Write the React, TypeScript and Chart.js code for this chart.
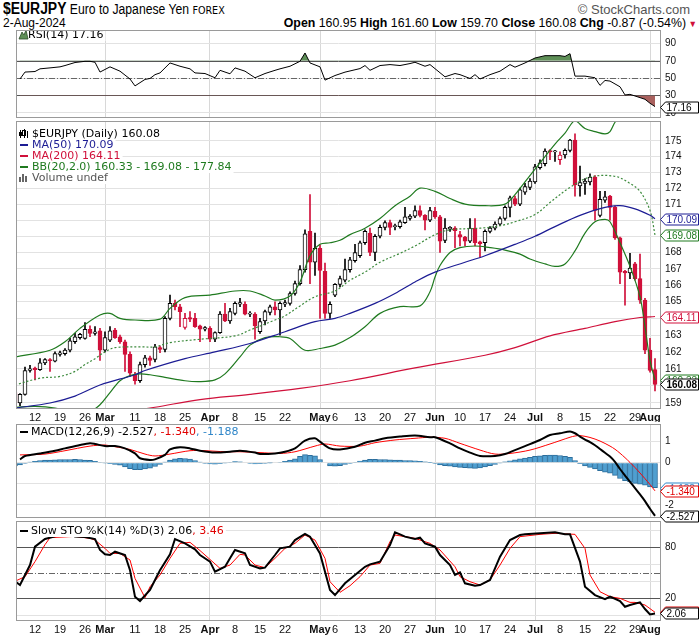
import React, { useEffect, useRef } from "react";
import { Chart, registerables } from "chart.js";

Chart.register(...registerables);

// ---------------- data ----------------
// trading days 6-Feb-2024 .. 2-Aug-2024, index 0..128
const tickIndex = [4, 9, 14, 18, 24, 29, 34, 39, 44, 49, 54, 61, 64, 69, 74, 79, 84, 89, 94, 99, 104, 109, 114, 119, 124, 127];
const tickText = ["12", "19", "26", "Mar", "11", "18", "25", "Apr", "8", "15", "22", "May", "6", "13", "20", "27", "Jun", "10", "17", "24", "Jul", "8", "15", "22", "29", "Aug"];
const monthIndex = [18, 39, 61, 84, 104, 127];

const opens = [159.6, 159.0, 159.5, 160.9, 161.05, 160.95, 161.35, 161.55, 161.45, 161.85, 161.9, 162.1, 162.6, 162.85, 162.8, 163.35, 163.1, 163.25, 162.1, 162.7, 163.3, 162.9, 162.6, 161.85, 160.65, 160.3, 161.25, 161.65, 161.55, 162.25, 162.15, 164.0, 164.9, 164.7, 163.45, 164.05, 164.0, 163.55, 163.35, 163.4, 162.75, 163.15, 164.25, 163.85, 164.3, 164.85, 164.85, 164.25, 164.25, 163.2, 163.85, 164.35, 164.7, 164.5, 164.85, 164.9, 165.5, 166.1, 166.95, 169.3, 167.4, 168.25, 166.85, 164.3, 165.4, 166.05, 166.3, 166.95, 167.5, 167.8, 168.6, 169.2, 168.0, 169.0, 169.55, 169.85, 169.6, 169.6, 169.85, 170.1, 170.25, 170.6, 170.3, 170.0, 170.55, 170.2, 168.75, 169.45, 169.5, 169.1, 168.95, 168.7, 169.5, 168.65, 168.6, 169.3, 169.5, 169.75, 170.1, 170.8, 171.35, 171.0, 171.75, 172.05, 172.4, 173.3, 173.55, 174.38, 174.3, 173.8, 174.1, 174.4, 175.05, 172.15, 172.3, 172.4, 172.7, 170.3, 171.25, 171.5, 170.8, 168.9, 166.85, 166.75, 167.3, 166.4, 165.1, 162.1, 160.95];
const highs = [159.8, 159.55, 161.1, 161.2, 161.1, 161.6, 161.6, 161.6, 162.0, 162.05, 162.2, 162.8, 163.1, 163.1, 163.75, 163.55, 163.5, 163.4, 163.2, 163.5, 163.4, 163.0, 162.7, 162.0, 160.8, 161.4, 161.8, 161.75, 162.45, 162.35, 164.1, 165.4, 165.1, 164.85, 164.3, 164.4, 164.3, 163.6, 163.5, 163.5, 163.2, 164.4, 164.9, 164.6, 165.0, 165.2, 165.0, 164.4, 164.35, 164.0, 164.5, 164.8, 165.0, 165.0, 165.1, 165.6, 166.25, 167.2, 169.4, 171.6, 169.2, 168.45, 167.35, 165.0, 166.1, 166.55, 167.6, 167.7, 168.5, 168.7, 169.4, 169.5, 169.1, 169.7, 169.95, 170.0, 169.75, 170.0, 170.8, 170.35, 170.9, 170.9, 170.35, 170.8, 170.8, 170.3, 170.1, 169.6, 169.6, 169.3, 169.0, 170.1, 170.1, 168.7, 169.4, 169.6, 169.9, 170.2, 170.9, 171.5, 171.5, 172.0, 172.3, 172.6, 173.5, 173.8, 174.5, 174.45, 174.4, 174.3, 174.5, 175.1, 175.45, 173.4, 172.6, 172.9, 172.8, 171.8, 171.8, 171.55, 170.9, 168.95, 166.9, 167.95, 167.4, 167.9, 165.2, 162.8, 161.6];
const lows = [158.9, 158.85, 159.45, 160.8, 160.35, 160.9, 161.25, 160.85, 161.4, 161.75, 161.8, 162.0, 162.5, 162.75, 162.75, 162.9, 163.0, 161.5, 162.0, 162.6, 162.8, 162.5, 160.85, 160.55, 160.1, 160.2, 161.1, 161.2, 161.4, 161.95, 162.0, 163.9, 164.5, 163.5, 163.35, 163.8, 163.45, 162.6, 163.25, 162.6, 162.6, 163.1, 163.8, 163.7, 164.2, 164.7, 164.2, 164.1, 162.75, 163.1, 163.6, 164.2, 164.2, 163.0, 164.7, 164.8, 165.4, 166.0, 166.8, 166.1, 166.6, 164.0, 164.0, 164.0, 165.3, 165.9, 166.2, 166.8, 167.4, 167.7, 168.5, 167.8, 167.5, 168.9, 169.4, 169.1, 169.4, 169.5, 169.8, 170.0, 170.15, 170.2, 169.4, 169.9, 170.1, 168.0, 168.6, 169.3, 168.3, 168.4, 168.4, 168.6, 168.4, 167.7, 168.1, 169.2, 169.4, 169.65, 170.0, 170.2, 170.9, 170.9, 171.6, 171.9, 172.3, 173.2, 173.4, 173.8, 173.7, 173.5, 173.9, 174.3, 171.5, 171.5, 171.6, 172.2, 170.0, 170.2, 171.1, 170.0, 168.8, 166.1, 164.8, 166.4, 166.3, 164.9, 161.9, 160.8, 159.7];
const closes = [159.0, 159.5, 160.9, 161.0, 160.95, 161.35, 161.55, 161.48, 161.9, 161.95, 162.1, 162.65, 162.9, 163.05, 163.35, 163.1, 163.2, 162.1, 162.85, 163.25, 162.85, 162.6, 161.85, 160.75, 160.3, 161.25, 161.65, 161.5, 162.3, 162.15, 164.0, 164.9, 164.7, 164.4, 164.0, 163.95, 163.5, 163.35, 163.45, 162.75, 163.15, 164.25, 163.85, 164.4, 164.9, 164.95, 164.25, 164.27, 163.55, 163.8, 164.4, 164.7, 164.5, 164.9, 164.95, 165.5, 166.1, 166.95, 169.15, 167.4, 168.25, 166.9, 164.3, 164.85, 166.05, 166.4, 166.95, 167.55, 168.0, 168.6, 169.3, 168.0, 169.0, 169.55, 169.85, 169.55, 169.62, 169.9, 170.2, 170.25, 170.6, 170.3, 170.0, 170.6, 170.2, 168.7, 169.5, 169.55, 169.35, 168.95, 168.7, 169.5, 168.6, 168.55, 169.3, 169.5, 169.75, 170.1, 170.8, 171.4, 171.0, 171.9, 172.1, 172.45, 173.35, 173.6, 174.35, 174.3, 174.32, 174.1, 174.4, 175.05, 172.2, 172.35, 172.45, 172.7, 170.6, 171.3, 171.45, 170.8, 168.9, 166.8, 166.75, 167.05, 166.4, 165.1, 162.1, 160.9, 160.08];

const ma50: [number, number][] = [[0, 158.7], [7, 159.0], [12, 159.4], [17, 160.05], [24, 160.65], [26, 160.9], [34, 161.6], [40, 162.0], [47, 162.5], [54, 163.2], [60, 163.8], [64, 164.0], [67, 164.3], [72, 164.9], [76, 165.5], [80, 166.2], [84, 166.8], [90, 167.4], [94, 167.8], [100, 168.5], [104, 169.0], [108, 169.6], [113, 170.3], [118, 170.8], [121, 170.9], [124, 170.7], [127, 170.3], [128, 170.09]];
const ma200: [number, number][] = [[20, 158.4], [28, 158.75], [37, 159.2], [47, 159.5], [57, 159.85], [67, 160.3], [80, 161.05], [94, 161.8], [100, 162.25], [107, 162.95], [114, 163.4], [120, 163.8], [125, 164.05], [128, 164.11]];
const bbUpper: [number, number][] = [[0, 161.7], [7, 162.1], [10, 162.6], [13, 163.4], [17, 164.2], [19, 164.3], [21, 164.0], [24, 163.9], [29, 163.95], [31, 164.6], [34, 165.25], [39, 165.4], [44, 165.65], [47, 165.65], [50, 165.35], [52, 165.1], [55, 165.35], [57, 166.2], [59, 167.8], [61, 168.5], [63, 168.6], [65, 168.75], [67, 169.1], [70, 169.5], [73, 170.1], [76, 170.9], [79, 171.5], [81, 172.0], [84, 171.8], [87, 171.35], [90, 171.0], [94, 170.9], [98, 171.0], [100, 171.6], [102, 172.4], [105, 173.6], [108, 174.8], [110, 175.5], [112, 176.3], [114, 175.8], [116, 175.6], [118, 175.45], [119, 175.6], [120, 176.2], [122, 177.0], [125, 177.5], [128, 177.84]];
const bbMiddle: [number, number][] = [[0, 160.05], [5, 160.45], [9, 160.55], [12, 160.85], [14, 161.25], [16, 161.6], [18, 162.0], [20, 162.25], [25, 162.3], [28, 162.3], [31, 162.55], [37, 162.75], [44, 162.95], [47, 163.3], [52, 163.9], [54, 164.15], [57, 164.75], [60, 165.3], [64, 165.65], [67, 166.3], [70, 166.8], [73, 167.4], [77, 167.95], [80, 168.4], [84, 169.1], [87, 169.4], [93, 169.5], [97, 169.65], [100, 169.9], [104, 170.35], [107, 171.1], [111, 172.05], [115, 172.7], [120, 172.75], [123, 172.3], [125, 171.8], [127, 170.6], [128, 169.08]];
const bbLower: [number, number][] = [[0, 158.75], [4, 158.8], [8, 158.7], [12, 158.4], [15, 158.5], [17, 158.9], [19, 159.6], [21, 160.3], [23, 160.6], [25, 160.7], [27, 160.65], [30, 160.5], [34, 160.3], [37, 160.25], [40, 160.35], [42, 160.7], [45, 161.7], [47, 162.4], [50, 162.85], [53, 162.9], [55, 162.8], [58, 162.1], [61, 162.2], [64, 162.4], [67, 162.85], [70, 163.5], [73, 164.3], [77, 164.7], [81, 164.75], [83, 165.6], [84, 166.5], [85, 167.2], [87, 168.0], [89, 168.3], [92, 168.4], [95, 168.3], [98, 168.15], [101, 167.9], [103, 167.6], [106, 167.3], [108, 167.15], [110, 167.3], [112, 168.1], [114, 169.2], [116, 169.9], [118, 170.05], [119, 169.9], [121, 168.6], [123, 167.15], [125, 165.3], [126, 163.5], [127, 161.5], [128, 160.33]];

const rsi: [number, number][] = [[1, 49], [2, 57], [4, 57.6], [5, 60.7], [7, 61.8], [9, 63], [10, 64.5], [12, 68], [14, 69.4], [15, 69.4], [16, 68.3], [17, 57], [19, 63], [21, 58], [23, 49], [24, 41], [26, 48.5], [27, 49.6], [28, 54], [29, 56], [31, 67.5], [33, 63.7], [35, 60.7], [36, 56], [38, 55.3], [40, 50.4], [41, 59], [43, 55], [44, 61.8], [46, 58], [48, 50.4], [50, 55.3], [52, 59], [53, 60.7], [55, 63.7], [57, 69.4], [58, 79], [59, 67.5], [61, 63], [62, 47.7], [64, 53], [66, 56.9], [69, 61], [70, 64.5], [71, 59], [73, 64.5], [75, 65.6], [77, 64.5], [79, 66.8], [80, 68.3], [82, 63.7], [83, 65.6], [86, 51.5], [88, 55.3], [89, 54], [91, 49.6], [92, 54], [93, 49], [95, 54], [97, 58], [99, 65.6], [100, 62.6], [102, 67.5], [104, 73.2], [106, 75.9], [109, 75.9], [110, 75], [111, 78.2], [112, 52.3], [114, 52.3], [116, 50.4], [117, 41.6], [118, 47.3], [119, 46.6], [121, 40], [122, 30.6], [123, 31.3], [124, 29.4], [126, 25.6], [127, 21], [128, 17.16]];

const macdLine: [number, number][] = [[1, 0.16], [2, 0.32], [5, 0.44], [8, 0.57], [10, 0.68], [13, 0.84], [15, 0.92], [16, 0.89], [18, 0.79], [20, 0.79], [22, 0.68], [24, 0.44], [25, 0.21], [27, 0.13], [28, 0.16], [30, 0.37], [31, 0.63], [33, 0.73], [35, 0.68], [37, 0.57], [40, 0.48], [43, 0.52], [45, 0.57], [48, 0.48], [49, 0.41], [52, 0.44], [54, 0.52], [56, 0.68], [58, 1.05], [60, 1.16], [61, 1.0], [63, 0.68], [65, 0.63], [68, 0.76], [70, 0.95], [72, 1.05], [74, 1.16], [77, 1.24], [80, 1.29], [83, 1.21], [84, 1.21], [87, 0.92], [89, 0.68], [91, 0.48], [93, 0.32], [96, 0.32], [98, 0.41], [100, 0.6], [102, 0.79], [105, 1.08], [107, 1.32], [109, 1.4], [111, 1.48], [112, 1.4], [113, 1.24], [114, 1.1], [115, 0.98], [116, 0.83], [117, 0.65], [118, 0.47], [119, 0.29], [120, 0.04], [121, -0.3], [122, -0.61], [123, -0.91], [124, -1.21], [125, -1.51], [126, -1.83], [127, -2.19], [128, -2.527]];
const macdSignal: [number, number][] = [[1, 0.37], [6, 0.41], [10, 0.57], [15, 0.79], [18, 0.84], [20, 0.76], [23, 0.63], [26, 0.41], [28, 0.32], [31, 0.41], [35, 0.57], [38, 0.57], [42, 0.52], [45, 0.52], [49, 0.48], [53, 0.44], [56, 0.52], [60, 0.79], [62, 0.89], [65, 0.79], [69, 0.79], [72, 0.95], [76, 1.08], [80, 1.16], [83, 1.21], [86, 1.16], [89, 0.92], [93, 0.6], [96, 0.41], [99, 0.44], [103, 0.6], [107, 0.89], [111, 1.21], [112, 1.27], [113, 1.29], [115, 1.2], [117, 1.03], [119, 0.79], [120, 0.64], [121, 0.45], [122, 0.24], [123, 0.01], [124, -0.23], [125, -0.49], [126, -0.76], [127, -1.04], [128, -1.34]];
const macdHist = [-0.15, -0.1, -0.03, 0.03, 0.06, 0.1, 0.12, 0.13, 0.14, 0.15, 0.15, 0.15, 0.16, 0.15, 0.13, 0.11, 0.07, 0.02, -0.02, -0.05, -0.08, -0.12, -0.2, -0.28, -0.33, -0.33, -0.3, -0.26, -0.18, -0.08, 0.03, 0.12, 0.18, 0.21, 0.2, 0.17, 0.1, 0.03, -0.03, -0.06, -0.07, -0.05, -0.02, 0.02, 0.05, 0.04, 0.0, -0.04, -0.06, -0.05, -0.03, -0.01, 0.0, 0.02, 0.06, 0.12, 0.18, 0.3, 0.38, 0.35, 0.33, 0.15, 0.0, -0.15, -0.17, -0.14, -0.08, -0.04, 0.02, 0.08, 0.13, 0.16, 0.16, 0.15, 0.15, 0.14, 0.13, 0.12, 0.1, 0.1, 0.09, 0.07, 0.04, 0.01, -0.04, -0.1, -0.14, -0.17, -0.2, -0.22, -0.24, -0.26, -0.27, -0.25, -0.2, -0.14, -0.08, -0.02, 0.04, 0.09, 0.14, 0.18, 0.22, 0.26, 0.3, 0.33, 0.35, 0.36, 0.36, 0.34, 0.3, 0.26, 0.1, -0.05, -0.15, -0.22, -0.3, -0.38, -0.45, -0.5, -0.6, -0.75, -0.85, -0.92, -0.98, -1.02, -1.07, -1.15, -1.188];

const stoK: [number, number][] = [[0, 40], [1, 35.5], [3, 59], [4, 80.6], [6, 89.6], [8, 92.7], [10, 98], [12, 92.7], [14, 92], [16, 89.6], [17, 76.7], [18, 71.6], [19, 70.8], [20, 74.7], [22, 70.8], [23, 53], [24, 21.8], [25, 16.7], [27, 29.6], [28, 41.4], [29, 53], [31, 71.6], [32, 89.6], [34, 84.5], [36, 77.5], [37, 70.8], [39, 63], [40, 51.2], [42, 57], [43, 66.9], [44, 76.7], [46, 72.7], [47, 59], [49, 55.1], [50, 55.9], [52, 70.8], [53, 78.6], [55, 80.6], [56, 88.4], [58, 95.5], [59, 92.4], [61, 72.7], [62, 51.2], [63, 29.6], [64, 23.7], [66, 37.5], [68, 47.3], [70, 57], [71, 59.8], [73, 63], [75, 82.5], [76, 97.5], [77, 95.1], [78, 92.4], [80, 89.6], [81, 91.2], [82, 84.5], [84, 80.6], [85, 70.8], [87, 59], [88, 47.3], [89, 50.4], [90, 37.5], [92, 34.7], [93, 35.5], [95, 41.4], [96, 55.1], [97, 68.8], [99, 88.4], [101, 94.3], [102, 95.1], [105, 96.3], [108, 97.5], [110, 95.1], [111, 95.1], [113, 63], [114, 33.5], [116, 23.7], [118, 19], [119, 21.8], [121, 16.7], [122, 10], [123, 12], [125, 15.1], [126, 7.3], [127, 1], [128, 2.06]];
const stoD: [number, number][] = [[0, 40], [2, 45.3], [4, 63], [6, 83], [7, 91.2], [12, 92.7], [15, 90.4], [16, 88.4], [18, 78.6], [19, 72.7], [21, 72.7], [23, 64.9], [24, 43.3], [26, 20.6], [27, 33.5], [29, 47.3], [31, 66.9], [33, 84.5], [35, 85.7], [37, 76], [38, 70.8], [41, 55.1], [43, 59], [45, 71.6], [46, 70.8], [48, 59], [50, 55.9], [52, 66.9], [54, 78.6], [56, 84.5], [58, 94.3], [60, 88.4], [62, 66.9], [63, 39.4], [65, 26.9], [67, 34.7], [69, 45.3], [71, 59], [73, 61], [75, 86.5], [76, 94.3], [78, 92.4], [80, 90.4], [83, 84.5], [85, 76.7], [88, 57], [89, 45.3], [91, 39.4], [93, 35.5], [95, 41.4], [97, 59], [99, 78.6], [101, 92.4], [105, 95.1], [108, 96.3], [112, 95.1], [114, 78.6], [115, 47.3], [117, 27.6], [119, 21.8], [121, 19.8], [123, 15.1], [124, 15.1], [126, 12], [128, 3.46]];

// ---------------- styling ----------------
const RED = "#d0103a";
const NAVY = "#1c1c94";
const GREEN = "#1f7a1f";
const HIST = "#4f9fd0";
const HIST_EDGE = "#2a6d9c";
const GRID = "#e2e2e2";
const MONTH_GRID = "#d8d8d8";
const FRAME = "#9a9a9a";
const AX_FONT = "'Liberation Sans', Arial, sans-serif";
const LG_FONT = "'DejaVu Sans', Verdana, sans-serif";

const X_MIN = 0.2;
const X_MAX = 129.2;
const PLOT_L = 16;
const AXIS_W = 39;

type Box = { v: number; text: string; color: string; bold?: boolean };
type Seg = { t: string; c: string };
type Row = { icon: string; ic: string; segs: Seg[] };
type Ref = { v: number; dash: number[]; color: string };

const pts = (a: [number, number][]) => a.map(([x, y]) => ({ x, y }));

function xAxis(showLabels: boolean, height: number) {
  return {
    type: "linear",
    min: X_MIN,
    max: X_MAX,
    offset: false,
    afterBuildTicks: (axis: any) => {
      axis.ticks = (showLabels ? tickIndex : monthIndex).map((v) => ({ value: v }));
    },
    afterFit: (axis: any) => {
      axis.height = height;
      axis.paddingLeft = 0;
      axis.paddingRight = 0;
    },
    grid: {
      offset: false,
      drawTicks: false,
      lineWidth: 1,
      color: (ctx: any) => (ctx.tick && monthIndex.includes(ctx.tick.value) ? MONTH_GRID : "rgba(0,0,0,0)"),
    },
    border: { display: false },
    ticks: {
      display: showLabels,
      autoSkip: false,
      maxRotation: 0,
      minRotation: 0,
      padding: 2,
      color: "#111",
      callback: (v: any) => {
        const k = tickIndex.indexOf(v);
        return k >= 0 ? tickText[k] : "";
      },
      font: (ctx: any) => {
        const v = ctx.tick ? ctx.tick.value : -1;
        return { family: AX_FONT, size: 11, weight: monthIndex.includes(v) ? "bold" : "normal" };
      },
    },
  };
}

function yAxis(extra: any, ticks: number[], labelled: number[] | null, boxes: Box[], hideTol: number) {
  return {
    position: "right",
    afterBuildTicks: (axis: any) => {
      axis.ticks = ticks.map((v) => ({ value: v }));
    },
    afterFit: (axis: any) => {
      axis.width = AXIS_W;
      axis.paddingTop = 0;
      axis.paddingBottom = 0;
    },
    grid: { color: GRID, drawTicks: false, lineWidth: 1 },
    border: { display: false },
    ticks: {
      padding: 4,
      color: "#111",
      font: { family: AX_FONT, size: 10 },
      callback: (v: any) => {
        if (labelled && !labelled.includes(v)) return "";
        if (boxes.some((b) => Math.abs(b.v - v) < hideTol)) return "";
        return String(v);
      },
    },
    ...extra,
  };
}

function drawIcon(ctx: CanvasRenderingContext2D, icon: string, color: string, x: number, cy: number) {
  ctx.save();
  if (icon === "line") {
    ctx.fillStyle = color;
    ctx.fillRect(x + 1, cy - 1, 8, 2);
  } else if (icon === "candle") {
    ctx.fillStyle = "#000";
    ctx.fillRect(x + 1, cy - 4, 1, 8);
    ctx.fillRect(x, cy - 2, 3, 4);
    ctx.fillRect(x + 5, cy - 5, 1, 9);
    ctx.strokeStyle = "#000";
    ctx.lineWidth = 1;
    ctx.strokeRect(x + 3.5, cy - 3.5, 3, 5);
    ctx.fillRect(x + 8, cy - 3, 1, 7);
  } else if (icon === "bars") {
    ctx.fillStyle = color;
    ctx.fillRect(x, cy - 1, 2, 5);
    ctx.fillRect(x + 3, cy - 4, 2, 8);
    ctx.fillRect(x + 6, cy - 2, 2, 6);
  } else if (icon === "mountain") {
    ctx.beginPath();
    ctx.moveTo(x, cy + 4);
    ctx.lineTo(x + 3, cy - 3);
    ctx.lineTo(x + 5, cy);
    ctx.lineTo(x + 7, cy - 5);
    ctx.lineTo(x + 9, cy + 4);
    ctx.closePath();
    ctx.fillStyle = "#5e8f57";
    ctx.fill();
    ctx.strokeStyle = "#2c4a28";
    ctx.lineWidth = 0.8;
    ctx.stroke();
  }
  ctx.restore();
}

function panelPlugin(boxes: Box[], rows: Row[], legendY: number, textX: number, refs: Ref[]) {
  return {
    id: "panelDecor",
    beforeDatasetsDraw(chart: any) {
      const { ctx, chartArea } = chart;
      const y = chart.scales.y;
      ctx.save();
      refs.forEach((r) => {
        const py = Math.round(y.getPixelForValue(r.v)) + 0.5;
        ctx.beginPath();
        ctx.setLineDash(r.dash);
        ctx.strokeStyle = r.color;
        ctx.lineWidth = 1;
        ctx.moveTo(chartArea.left, py);
        ctx.lineTo(chartArea.right, py);
        ctx.stroke();
      });
      ctx.restore();
    },
    afterDatasetsDraw(chart: any) {
      const { ctx, chartArea } = chart;
      ctx.save();
      ctx.font = `11px ${LG_FONT}`;
      ctx.textBaseline = "middle";
      rows.forEach((row, r) => {
        const cy = Math.round(chartArea.top + legendY + r * 10.9);
        const tx = chartArea.left + textX;
        const w = row.segs.reduce((s, g) => s + ctx.measureText(g.t).width, 0);
        ctx.fillStyle = "#fff";
        ctx.fillRect(chartArea.left + 1, cy - 5, w + textX + 1, 11);
        drawIcon(ctx, row.icon, row.ic, chartArea.left + 3, cy);
        let x = tx;
        row.segs.forEach((g) => {
          ctx.fillStyle = g.c;
          ctx.fillText(g.t, x, cy);
          x += ctx.measureText(g.t).width;
        });
      });
      ctx.strokeStyle = FRAME;
      ctx.lineWidth = 1;
      ctx.setLineDash([]);
      ctx.strokeRect(chartArea.left + 0.5, chartArea.top + 0.5, chartArea.right - chartArea.left - 1, chartArea.bottom - chartArea.top - 1);
      ctx.restore();
    },
    afterDraw(chart: any) {
      const { ctx, chartArea } = chart;
      const y = chart.scales.y;
      ctx.save();
      boxes.forEach((b) => {
        const py = Math.round(y.getPixelForValue(b.v)) + 0.5;
        const x0 = chartArea.right - 0.5;
        const h = 11;
        const w = 38;
        ctx.beginPath();
        ctx.moveTo(x0, py);
        ctx.lineTo(x0 + 5, py - h / 2);
        ctx.lineTo(x0 + w, py - h / 2);
        ctx.lineTo(x0 + w, py + h / 2);
        ctx.lineTo(x0 + 5, py + h / 2);
        ctx.closePath();
        ctx.fillStyle = "#fff";
        ctx.fill();
        ctx.strokeStyle = b.color;
        ctx.lineWidth = 1;
        ctx.stroke();
        ctx.fillStyle = b.color;
        ctx.font = `${b.bold ? "bold " : ""}10px ${AX_FONT}`;
        ctx.textBaseline = "middle";
        ctx.fillText(b.text, x0 + 6, py + 0.5);
      });
      ctx.restore();
    },
  };
}

function baseOptions(pad: any, scales: any) {
  return {
    responsive: false,
    animation: false,
    events: [],
    layout: { padding: pad },
    plugins: { legend: { display: false }, tooltip: { enabled: false } },
    scales,
  };
}

function makeRsi(canvas: HTMLCanvasElement) {
  const boxes: Box[] = [{ v: 17.16, text: "17.16", color: "#000" }];
  const rows: Row[] = [{ icon: "mountain", ic: GREEN, segs: [{ t: "RSI(14) 17.16", c: "#000" }] }];
  const refs: Ref[] = [
    { v: 70, dash: [], color: "#555" },
    { v: 30, dash: [], color: "#555" },
    { v: 50, dash: [6, 2, 1, 2], color: "#666" },
  ];
  const data = pts(rsi);
  return new Chart(canvas, {
    type: "line",
    data: {
      datasets: [
        { data, borderColor: "#000", borderWidth: 1, pointRadius: 0, tension: 0, fill: { target: { value: 70 }, above: "#5e8f57", below: "rgba(0,0,0,0)" } },
        { data, borderColor: "rgba(0,0,0,0)", borderWidth: 0, pointRadius: 0, tension: 0, fill: { target: { value: 30 }, above: "rgba(0,0,0,0)", below: "#a9615e" } },
      ],
    } as any,
    options: baseOptions({ left: PLOT_L, right: 0, top: 6, bottom: 6 }, {
      x: xAxis(false, 0),
      y: yAxis({ type: "linear", min: 4, max: 105.5 }, [10, 20, 30, 40, 50, 60, 70, 80, 90, 100], [10, 30, 50, 70, 90], boxes, 4),
    }) as any,
    plugins: [panelPlugin(boxes, rows, 5, 12, refs)],
  });
}

function makePrice(canvas: HTMLCanvasElement) {
  const boxes: Box[] = [
    { v: 170.09, text: "170.09", color: NAVY },
    { v: 169.08, text: "169.08", color: GREEN },
    { v: 164.11, text: "164.11", color: RED },
    { v: 160.33, text: "160.33", color: GREEN },
    { v: 160.08, text: "160.08", color: "#000", bold: true },
  ];
  const rows: Row[] = [
    { icon: "candle", ic: "#000", segs: [{ t: "$EURJPY (Daily) 160.08", c: "#000" }] },
    { icon: "line", ic: NAVY, segs: [{ t: "MA(50) 170.09", c: NAVY }] },
    { icon: "line", ic: RED, segs: [{ t: "MA(200) 164.11", c: RED }] },
    { icon: "line", ic: GREEN, segs: [{ t: "BB(20,2.0) 160.33 - 169.08 - 177.84", c: GREEN }] },
    { icon: "bars", ic: "#666", segs: [{ t: "Volume undef", c: "#555" }] },
  ];
  const border: string[] = [];
  const fill: string[] = [];
  closes.forEach((c, i) => {
    const prev = i > 0 ? closes[i - 1] : opens[i];
    const col = c < prev ? RED : "#000";
    border.push(col);
    fill.push(c < opens[i] ? col : "#fff");
  });
  const idx = closes.map((_, i) => i);
  const line = (d: [number, number][], color: string, extra: any = {}) => ({
    type: "line",
    data: pts(d),
    borderColor: color,
    borderWidth: 1.2,
    pointRadius: 0,
    tension: 0.35,
    fill: false,
    order: 1,
    ...extra,
  });
  const priceTicks = [159, 160, 161, 162, 163, 164, 165, 166, 167, 168, 169, 170, 171, 172, 173, 174, 175];
  return new Chart(canvas, {
    type: "bar",
    data: {
      datasets: [
        line(ma200, RED),
        line(ma50, NAVY),
        line(bbUpper, GREEN),
        line(bbMiddle, "#3c8a3c", { borderDash: [2, 2] }),
        line(bbLower, GREEN),
        {
          type: "bar",
          data: idx.map((i) => ({ x: i, y: [opens[i], closes[i]] })),
          backgroundColor: fill,
          borderColor: border,
          borderWidth: 1,
          borderSkipped: false,
          barThickness: 4,
          minBarLength: 1,
          grouped: false,
          order: 10,
        },
        {
          type: "bar",
          data: idx.map((i) => ({ x: i, y: [lows[i], highs[i]] })),
          backgroundColor: border,
          borderWidth: 0,
          barThickness: 1,
          grouped: false,
          order: 11,
        },
      ],
    } as any,
    options: baseOptions({ left: PLOT_L, right: 0, top: 3, bottom: 2 }, {
      x: xAxis(true, 13),
      y: yAxis({ type: "logarithmic", min: 158.65, max: 176.28 }, priceTicks, null, boxes, 0.55),
    }) as any,
    plugins: [panelPlugin(boxes, rows, 13, 16, [])],
  });
}

function makeMacd(canvas: HTMLCanvasElement) {
  const boxes: Box[] = [
    { v: -1.188, text: "-1.188", color: "#2f86c8" },
    { v: -1.34, text: "-1.340", color: "#e00000" },
    { v: -2.527, text: "-2.527", color: "#000" },
  ];
  const rows: Row[] = [
    { icon: "line", ic: "#000", segs: [{ t: "MACD(12,26,9) -2.527", c: "#000" }, { t: ", -1.340", c: "#e00000" }, { t: ", -1.188", c: "#2f86c8" }] },
  ];
  return new Chart(canvas, {
    type: "bar",
    data: {
      datasets: [
        { type: "line", data: pts(macdLine), borderColor: "#000", borderWidth: 2, pointRadius: 0, tension: 0.3, order: 1 },
        { type: "line", data: pts(macdSignal), borderColor: "#ff0000", borderWidth: 1, pointRadius: 0, tension: 0.3, order: 2 },
        {
          type: "bar",
          data: macdHist.map((v, i) => ({ x: i, y: v })),
          backgroundColor: HIST,
          borderColor: HIST_EDGE,
          borderWidth: 1,
          borderSkipped: "start",
          barThickness: 5,
          grouped: false,
          order: 5,
        },
      ],
    } as any,
    options: baseOptions({ left: PLOT_L, right: 0, top: 5, bottom: 6 }, {
      x: xAxis(false, 0),
      y: yAxis({ type: "linear", min: -2.63, max: 1.84 }, [-2, -1, 0, 1], null, boxes, 0.3),
    }) as any,
    plugins: [panelPlugin(boxes, rows, 8, 15, [])],
  });
}

function makeSto(canvas: HTMLCanvasElement) {
  const boxes: Box[] = [
    { v: 3.46, text: "3.46", color: "#e00000" },
    { v: 2.06, text: "2.06", color: "#000" },
  ];
  const rows: Row[] = [
    { icon: "line", ic: "#000", segs: [{ t: "Slow STO %K(14) %D(3) 2.06", c: "#000" }, { t: ", 3.46", c: "#e00000" }] },
  ];
  const refs: Ref[] = [
    { v: 80, dash: [], color: "#555" },
    { v: 20, dash: [], color: "#555" },
    { v: 50, dash: [6, 2, 1, 2], color: "#666" },
  ];
  return new Chart(canvas, {
    type: "line",
    data: {
      datasets: [
        { data: pts(stoK), borderColor: "#000", borderWidth: 2, pointRadius: 0, tension: 0, order: 1 },
        { data: pts(stoD), borderColor: "#ff0000", borderWidth: 1, pointRadius: 0, tension: 0, order: 2 },
      ],
    } as any,
    options: baseOptions({ left: PLOT_L, right: 0, top: 5, bottom: 2 }, {
      x: xAxis(true, 16),
      y: yAxis({ type: "linear", min: -6.8, max: 110.8 }, [0, 10, 20, 30, 40, 50, 60, 70, 80, 90, 100], [20, 50, 80], boxes, 6),
    }) as any,
    plugins: [panelPlugin(boxes, rows, 10, 15, refs)],
  });
}

const canvasStyle = (top: number, h: number): React.CSSProperties => ({ position: "absolute", left: 0, top, width: 700, height: h });

export default function App() {
  const rRsi = useRef<HTMLCanvasElement>(null);
  const rPrice = useRef<HTMLCanvasElement>(null);
  const rMacd = useRef<HTMLCanvasElement>(null);
  const rSto = useRef<HTMLCanvasElement>(null);

  useEffect(() => {
    const charts = [
      makeRsi(rRsi.current as HTMLCanvasElement),
      makePrice(rPrice.current as HTMLCanvasElement),
      makeMacd(rMacd.current as HTMLCanvasElement),
      makeSto(rSto.current as HTMLCanvasElement),
    ];
    return () => charts.forEach((c) => c.destroy());
  }, []);

  return (
    <div style={{ position: "fixed", left: 0, top: 0, width: 700, height: 639, background: "#fff", overflow: "hidden", fontFamily: AX_FONT, color: "#000" }}>
      <div style={{ position: "absolute", left: 3, top: 0, whiteSpace: "nowrap", lineHeight: "18px", transform: "scaleX(0.87)", transformOrigin: "left top" }}>
        <span style={{ fontWeight: "bold", fontSize: 16 }}>$EURJPY</span>
        <span style={{ fontSize: 14 }}> Euro to Japanese Yen </span>
        <span style={{ fontSize: 11, fontFamily: LG_FONT }}>FOREX</span>
      </div>
      <div style={{ position: "absolute", right: 10, top: 2, whiteSpace: "nowrap", fontSize: 13, color: "#555", lineHeight: "15px" }}>© StockCharts.com</div>
      <div style={{ position: "absolute", left: 3, top: 16, whiteSpace: "nowrap", fontSize: 12, lineHeight: "14px" }}>2-Aug-2024</div>
      <div style={{ position: "absolute", right: 3, top: 16, whiteSpace: "nowrap", fontSize: 13, lineHeight: "14px", transform: "scaleX(0.95)", transformOrigin: "right top" }}>
        <b>Open</b> 160.95 <b>High</b> 161.60 <b>Low</b> 159.70 <b>Close</b> 160.08 <b>Chg</b> -0.87 (-0.54%)<span style={{ color: RED, fontSize: 9 }}> ▼</span>
      </div>
      <canvas ref={rRsi} width={700} height={100} style={canvasStyle(24, 100)} />
      <canvas ref={rPrice} width={700} height={306} style={canvasStyle(118, 306)} />
      <canvas ref={rMacd} width={700} height={105} style={canvasStyle(419, 105)} />
      <canvas ref={rSto} width={700} height={123} style={canvasStyle(516, 123)} />
    </div>
  );
}
